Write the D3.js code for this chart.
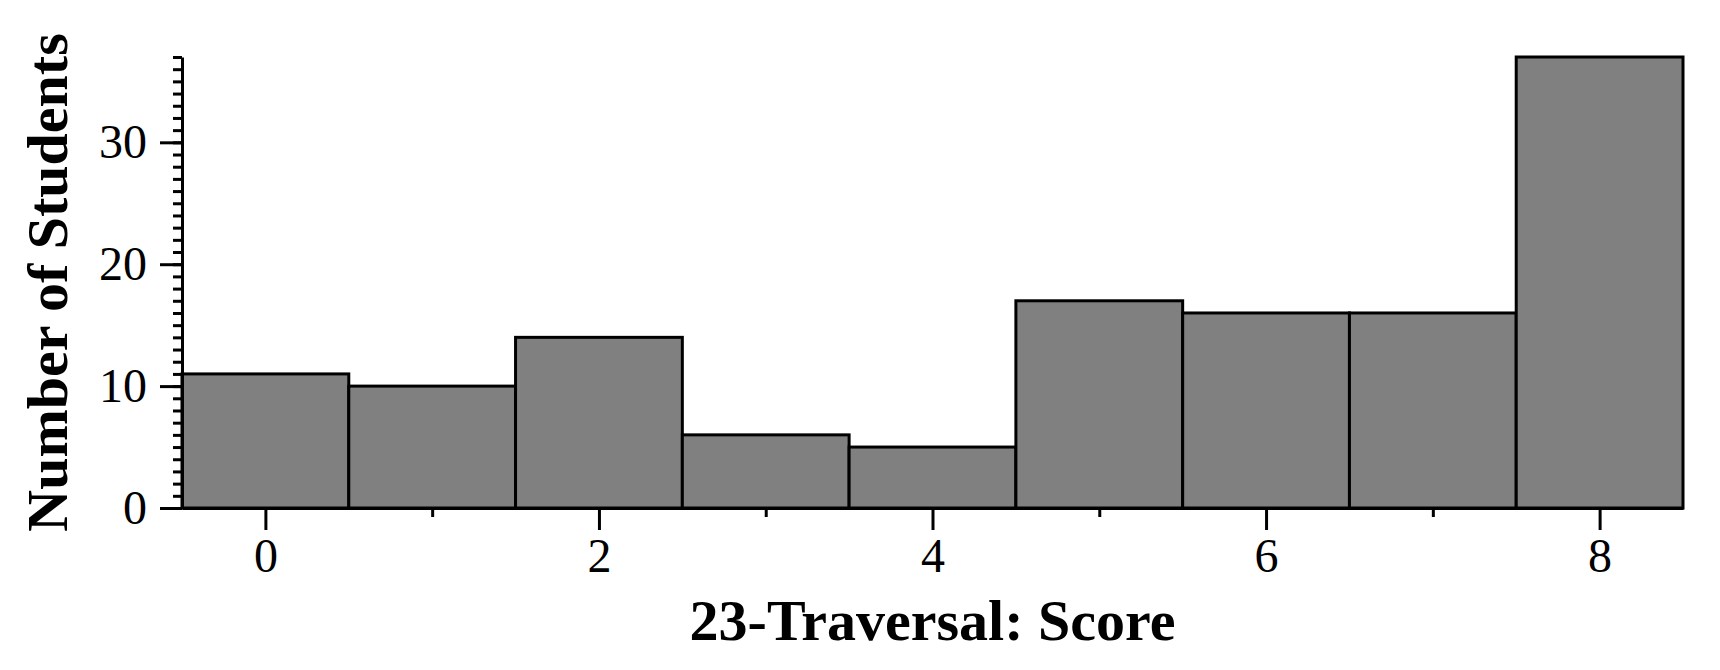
<!DOCTYPE html>
<html>
<head>
<meta charset="utf-8">
<script src="https://cdn.jsdelivr.net/npm/d3@7"></script>
<style>
html,body{margin:0;padding:0;background:#fff;}
svg text{font-family:"Liberation Serif","Times New Roman",serif;fill:#000;}
</style>
</head>
<body>
<svg id="chart" width="1720" height="670"></svg>
<script>
const scores = [0, 1, 2, 3, 4, 5, 6, 7, 8];
const counts = [11, 10, 14, 6, 5, 17, 16, 16, 37];
const xTickLabels = [0, 2, 4, 6, 8];
const xMinorTicks = [1, 3, 5, 7];
const yTickLabels = [0, 10, 20, 30];
const xTitle = "23-Traversal: Score";
const yTitle = "Number of Students";

const svg = d3.select("#chart");
const plotL = 182, plotR = 1683, plotT = 57, plotB = 508;

const x = d3.scaleLinear().domain([-0.5, 8.5]).range([plotL, plotR]);
const y = d3.scaleLinear().domain([0, 37]).range([plotB, plotT]);

// bars
svg.append("g").selectAll("rect").data(scores).join("rect")
  .attr("x", d => x(d - 0.5))
  .attr("width", d => x(d + 0.5) - x(d - 0.5))
  .attr("y", (d, i) => y(counts[i]))
  .attr("height", (d, i) => y(0) - y(counts[i]))
  .attr("fill", "#808080")
  .attr("stroke", "#000")
  .attr("stroke-width", 3);

// y minor ticks
const yMinor = svg.append("g").attr("transform", `translate(${plotL},0)`)
  .call(d3.axisLeft(y).tickValues(d3.range(0, 38)).tickSize(9).tickSizeOuter(0).tickFormat(""));
yMinor.select(".domain").remove();
yMinor.selectAll("line").attr("stroke-width", 3);

// y major
const yAx = svg.append("g").attr("transform", `translate(${plotL},0)`)
  .call(d3.axisLeft(y).tickValues(yTickLabels).tickSize(22).tickSizeOuter(0).tickPadding(13).tickFormat(d3.format("d")));
yAx.select(".domain").attr("stroke-width", 3);
yAx.selectAll("line").attr("stroke-width", 3);
yAx.selectAll("text").attr("font-size", 48).attr("font-family", "Liberation Serif");

// x minor
const xMinor = svg.append("g").attr("transform", `translate(0,${plotB})`)
  .call(d3.axisBottom(x).tickValues(xMinorTicks).tickSize(9).tickSizeOuter(0).tickFormat(""));
xMinor.select(".domain").remove();
xMinor.selectAll("line").attr("stroke-width", 3);

// x major
const xAx = svg.append("g").attr("transform", `translate(0,${plotB})`)
  .call(d3.axisBottom(x).tickValues(xTickLabels).tickSize(22).tickSizeOuter(0).tickPadding(8).tickFormat(d3.format("d")));
xAx.select(".domain").attr("stroke-width", 3);
xAx.selectAll("line").attr("stroke-width", 3);
xAx.selectAll("text").attr("font-size", 48).attr("font-family", "Liberation Serif");

// titles
svg.append("text")
  .attr("x", (plotL + plotR) / 2).attr("y", 640)
  .attr("text-anchor", "middle")
  .attr("font-size", 58).attr("font-weight", "bold")
  .text(xTitle);

svg.append("text")
  .attr("transform", `translate(67,${(plotT + plotB) / 2}) rotate(-90)`)
  .attr("text-anchor", "middle")
  .attr("font-size", 58).attr("font-weight", "bold")
  .text(yTitle);
</script>
</body>
</html>
